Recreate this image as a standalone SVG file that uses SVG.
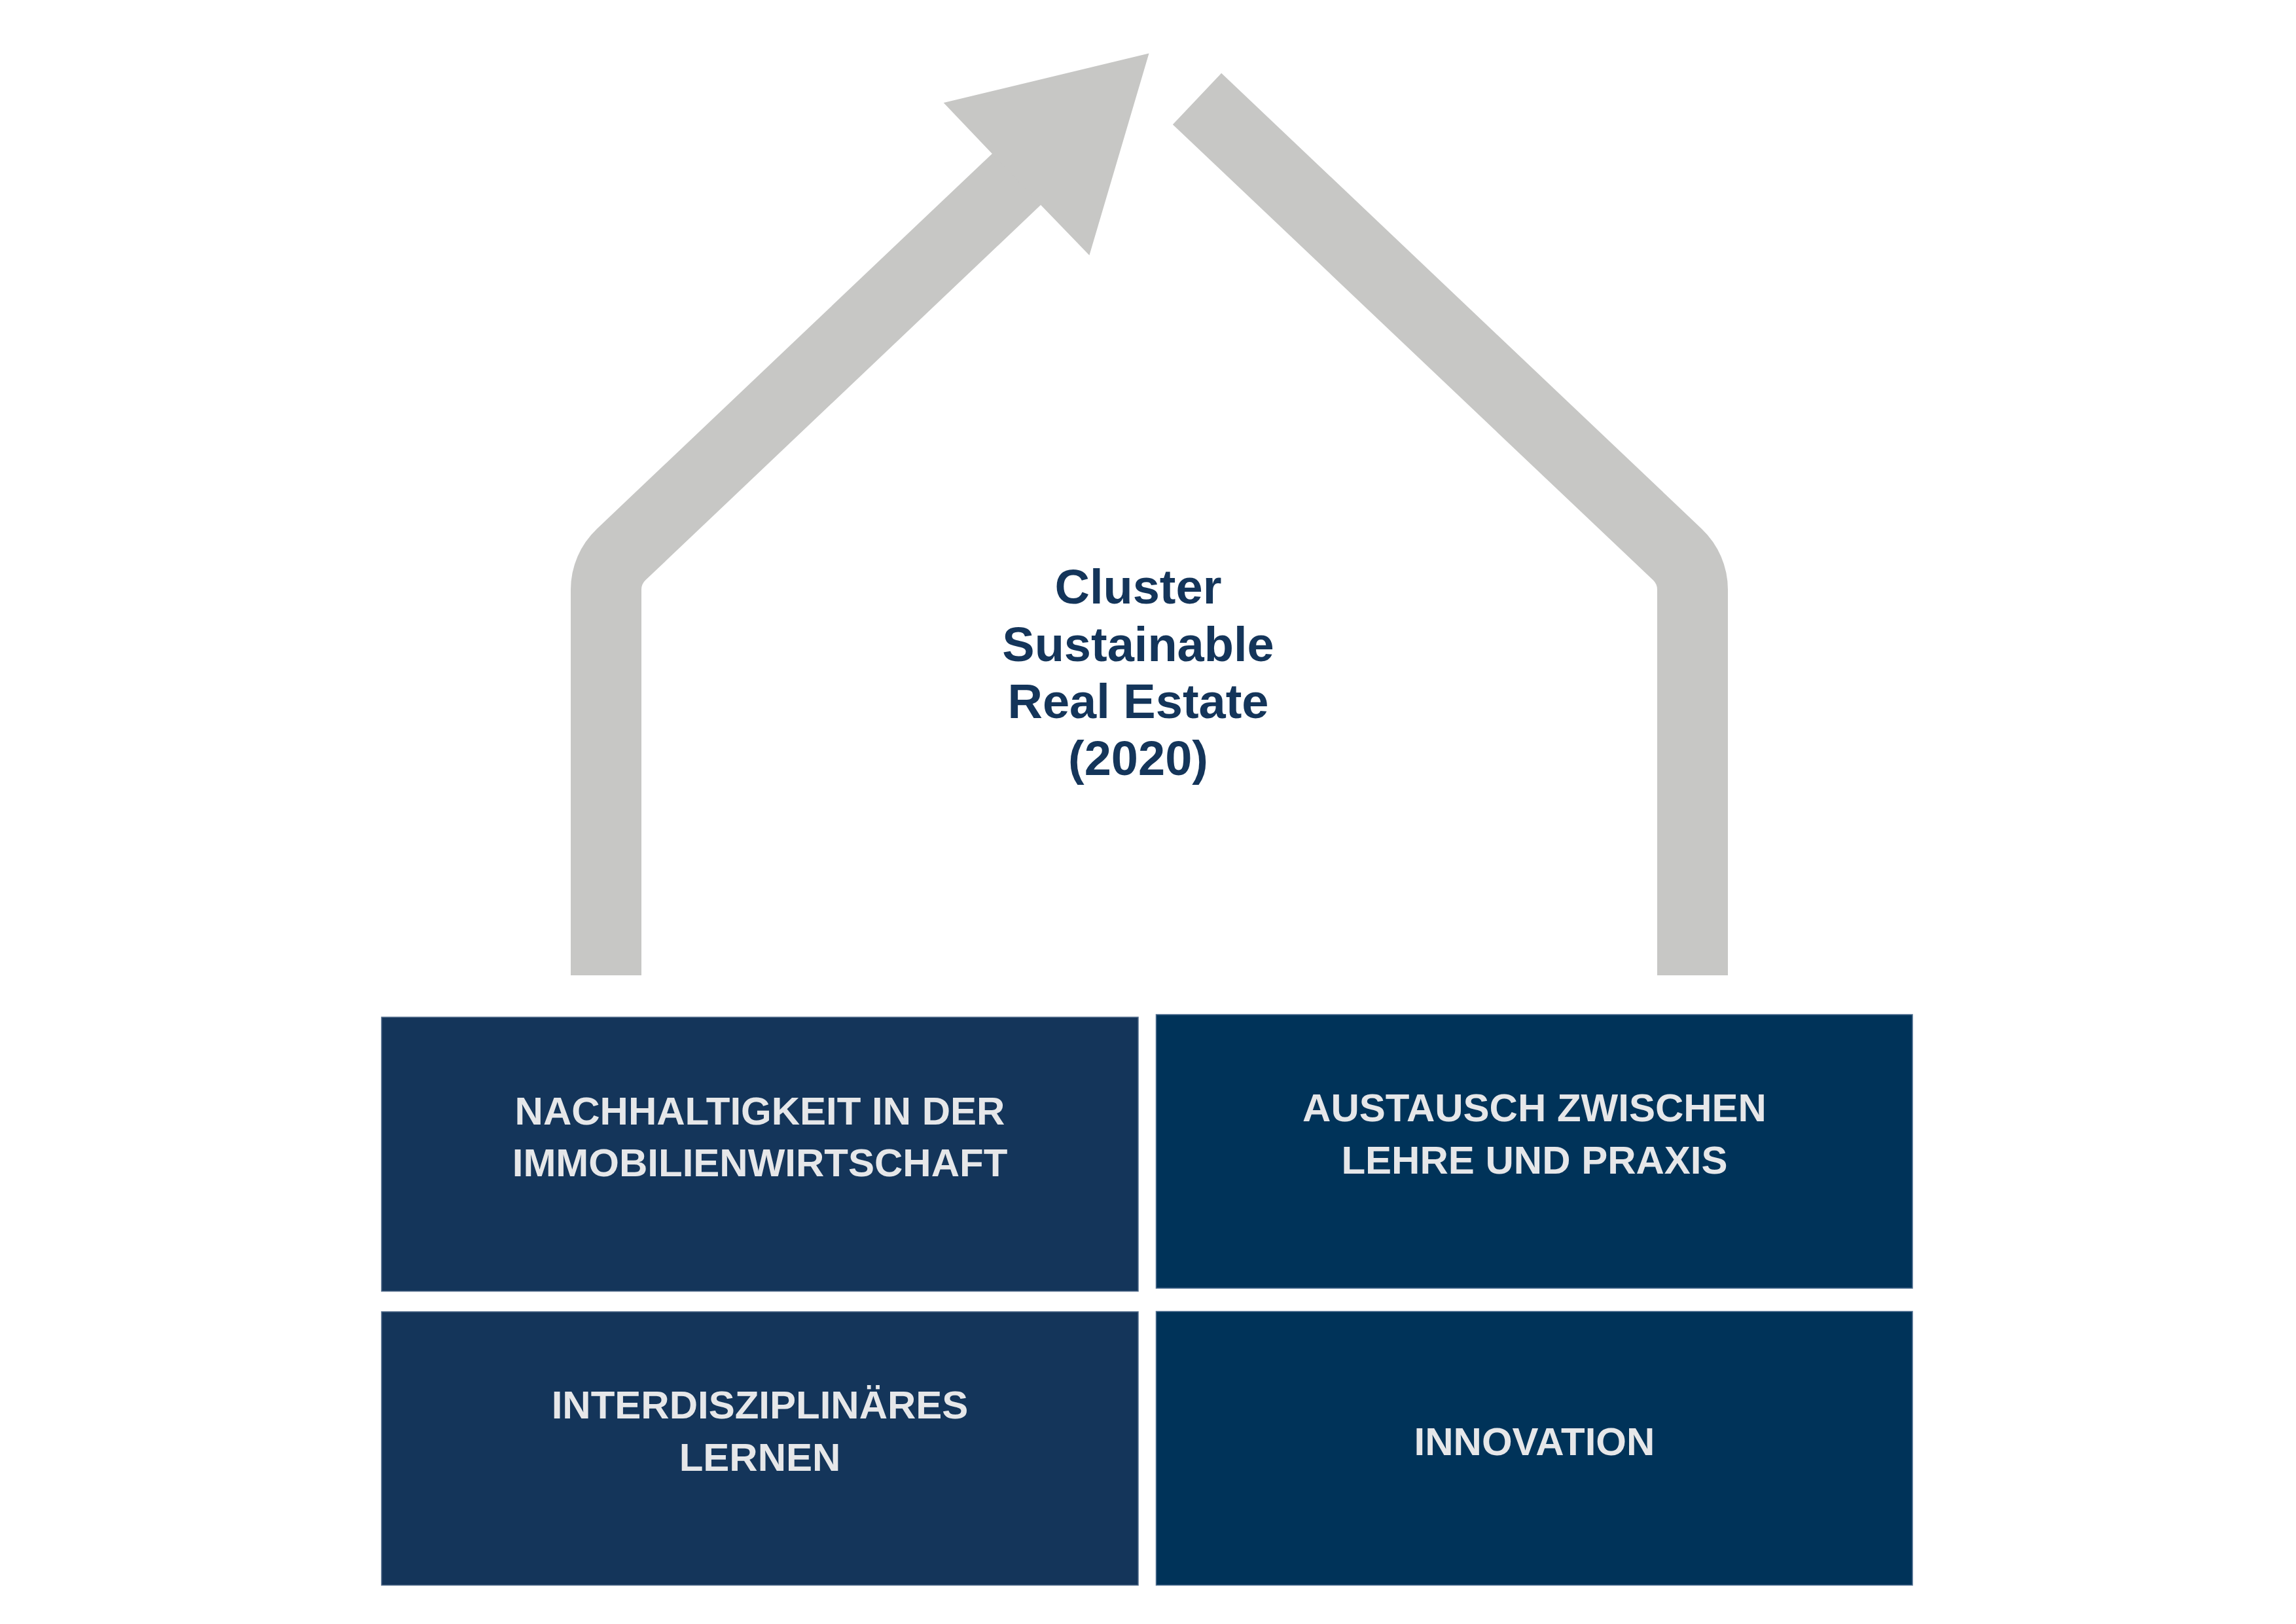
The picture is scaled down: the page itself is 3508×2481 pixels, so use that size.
<svg xmlns="http://www.w3.org/2000/svg" width="3508" height="2481" viewBox="0 0 3508 2481">
  <style>
    .arm { fill: none; stroke: #C7C7C5; stroke-width: 108; stroke-linecap: butt; stroke-linejoin: miter; }
    .head { fill: #C7C7C5; }
    .boxL { fill: #14355A; stroke: #4E6888; stroke-width: 1.5; }
    .boxR { fill: #003359; stroke: #4E6E90; stroke-width: 1.5; }
    .lbl { font-family: "Liberation Sans", Arial, Helvetica, sans-serif; font-weight: bold; font-size: 60px; fill: #E6E7E9; text-anchor: middle; }
    .title { font-family: "Liberation Sans", Arial, Helvetica, sans-serif; font-weight: bold; font-size: 74px; fill: #14355A; text-anchor: middle; }
  </style>
  <rect x="0" y="0" width="3508" height="2481" fill="#FFFFFF"/>
  <g id="connectors">
    <path class="arm" d="M 926 1490 L 926 900.8 A 74 74 0 0 1 949.1 847.1 L 1567.5 260.2"/>
    <polygon class="head" points="1755.5,81.5 1441.7,157 1516,235 1590,313 1664.4,390"/>
    <path class="arm" d="M 2586 1490 L 2586 900.8 A 74 74 0 0 0 2562.9 847.1 L 1829 151"/>
  </g>
  <g id="title">
    <text class="title" x="1739" y="922">Cluster</text>
    <text class="title" x="1739" y="1009.5">Sustainable</text>
    <text class="title" x="1739" y="1097">Real Estate</text>
    <text class="title" x="1739" y="1184">(2020)</text>
  </g>
  <g id="node-nachhaltigkeit">
    <rect class="boxL" x="583" y="1554" width="1156" height="418.6"/>
    <text class="lbl" x="1161" y="1717.6">NACHHALTIGKEIT IN DER</text>
    <text class="lbl" x="1161" y="1796.5">IMMOBILIENWIRTSCHAFT</text>
  </g>
  <g id="node-austausch">
    <rect class="boxR" x="1766.5" y="1550" width="1155.5" height="418"/>
    <text class="lbl" x="2344.5" y="1713">AUSTAUSCH ZWISCHEN</text>
    <text class="lbl" x="2344.5" y="1793">LEHRE UND PRAXIS</text>
  </g>
  <g id="node-interdisziplinaer">
    <rect class="boxL" x="583" y="2004" width="1156" height="417.7"/>
    <text class="lbl" x="1161" y="2166.7">INTERDISZIPLINÄRES</text>
    <text class="lbl" x="1161" y="2246.7">LERNEN</text>
  </g>
  <g id="node-innovation">
    <rect class="boxR" x="1766.5" y="2003.5" width="1155.5" height="418.2"/>
    <text class="lbl" x="2344.5" y="2223">INNOVATION</text>
  </g>
</svg>
